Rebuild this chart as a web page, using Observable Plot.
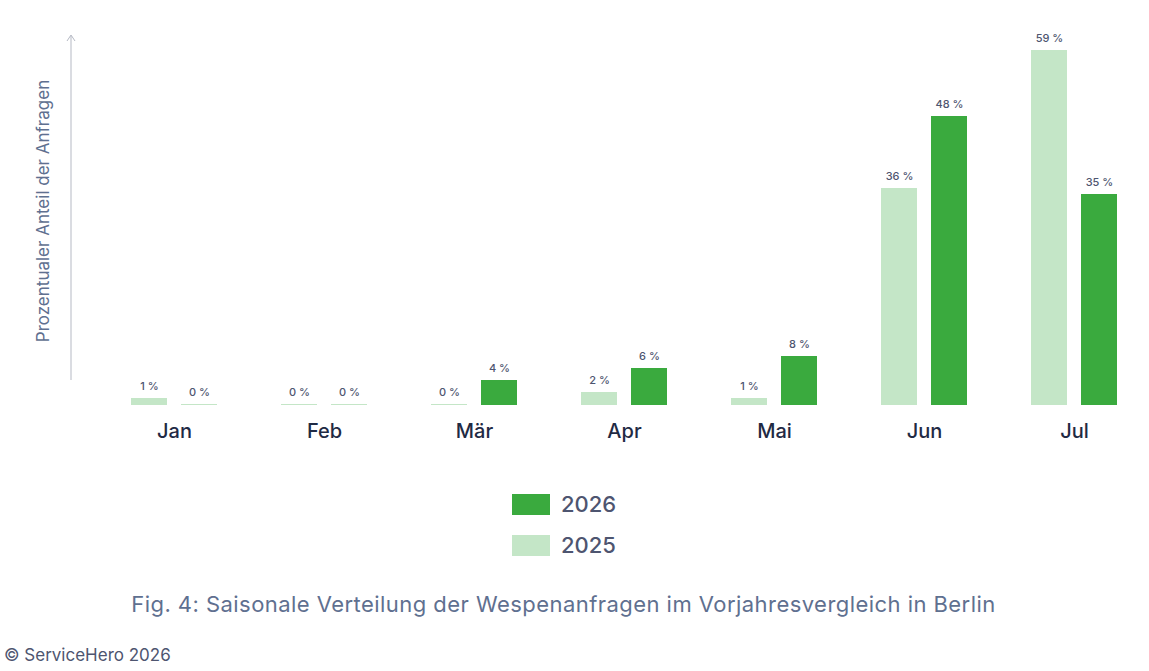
<!DOCTYPE html>
<html><head><meta charset="utf-8">
<script src="https://cdn.jsdelivr.net/npm/d3@7"></script>
<script src="https://cdn.jsdelivr.net/npm/@observablehq/plot@0.6"></script>
<style>
body{margin:0;background:#fff;font-family:Inter,"Noto Sans",sans-serif;color:#4e5570;}
#wrap{position:relative;width:1149px;height:671px;}
.leg{position:absolute;left:512px;display:flex;align-items:center;font-size:22px;font-weight:500;color:#4e5570}
.leg span.sw{display:inline-block;width:38px;height:21px;margin-right:11px}
#cap{position:absolute;top:591px;left:0;width:1127px;text-align:center;font-size:22px;letter-spacing:0.45px;color:#5f7090}
#foot{position:absolute;top:645px;left:4px;font-size:17px;color:#4e5570}
</style></head><body>
<div id="wrap"><div id="chart"></div>
<div class="leg" style="top:491px"><span class="sw" style="background:#3aaa3e"></span>2026</div>
<div class="leg" style="top:532px"><span class="sw" style="background:#c4e6c7"></span>2025</div>
<div id="cap">Fig. 4: Saisonale Verteilung der Wespenanfragen im Vorjahresvergleich in Berlin</div>
<div id="foot">© ServiceHero 2026</div>
</div>
<script>
const months = ["Jan","Feb","Mär","Apr","Mai","Jun","Jul"];
const v2025 = [1,0,0,2,1,36,59];
const v2026 = [0,0,4,6,8,48,35];
const d25 = months.map((m,i)=>({m, v:v2025[i]}));
const d26 = months.map((m,i)=>({m, v:v2026[i]}));
const txt = "#4e5570";
const plot = Plot.plot({
  width:1149, height:460, marginLeft:99, marginRight:0, marginTop:0, marginBottom:0,
  x:{domain:months, range:[99,1149], padding:0, axis:null},
  y:{domain:[0,59], range:[405,51], axis:null},
  style:{fontFamily:"Inter, 'Noto Sans', sans-serif"},
  marks:[
    Plot.barY(d25,{x:"m", y:"v", fill:"#c4e6c7", insetLeft:32, insetRight:82, insetTop:-1}),
    Plot.barY(d26,{x:"m", y:"v", fill:d=>d.v===0?"#c4e6c7":"#3aaa3e", insetLeft:82, insetRight:32, insetTop:-1}),
    Plot.text(d25,{x:"m", y:"v", text:d=>d.v+" %", dx:-25, dy:-13, fontSize:11, fontWeight:500, fill:txt}),
    Plot.text(d26,{x:"m", y:"v", text:d=>d.v+" %", dx:25, dy:-13, fontSize:11, fontWeight:500, fill:txt}),
    Plot.text(months,{x:d=>d, y:0, text:d=>d, dy:26, fontSize:20, fontWeight:500, fill:"#1f2a44"}),
    () => {
      const g = d3.create("svg:g");
      g.append("line").attr("x1",71).attr("x2",71).attr("y1",36).attr("y2",380).attr("stroke","#b5b9c4");
      g.append("path").attr("d","M67,41 L71,35 L75,41").attr("fill","none").attr("stroke","#b5b9c4");
      g.append("text").attr("transform","translate(49,211) rotate(-90)").attr("text-anchor","middle")
        .attr("font-size",17).attr("fill","#5f7090").text("Prozentualer Anteil der Anfragen");
      return g.node();
    }
  ]
});
document.getElementById("chart").append(plot);
</script></body></html>
